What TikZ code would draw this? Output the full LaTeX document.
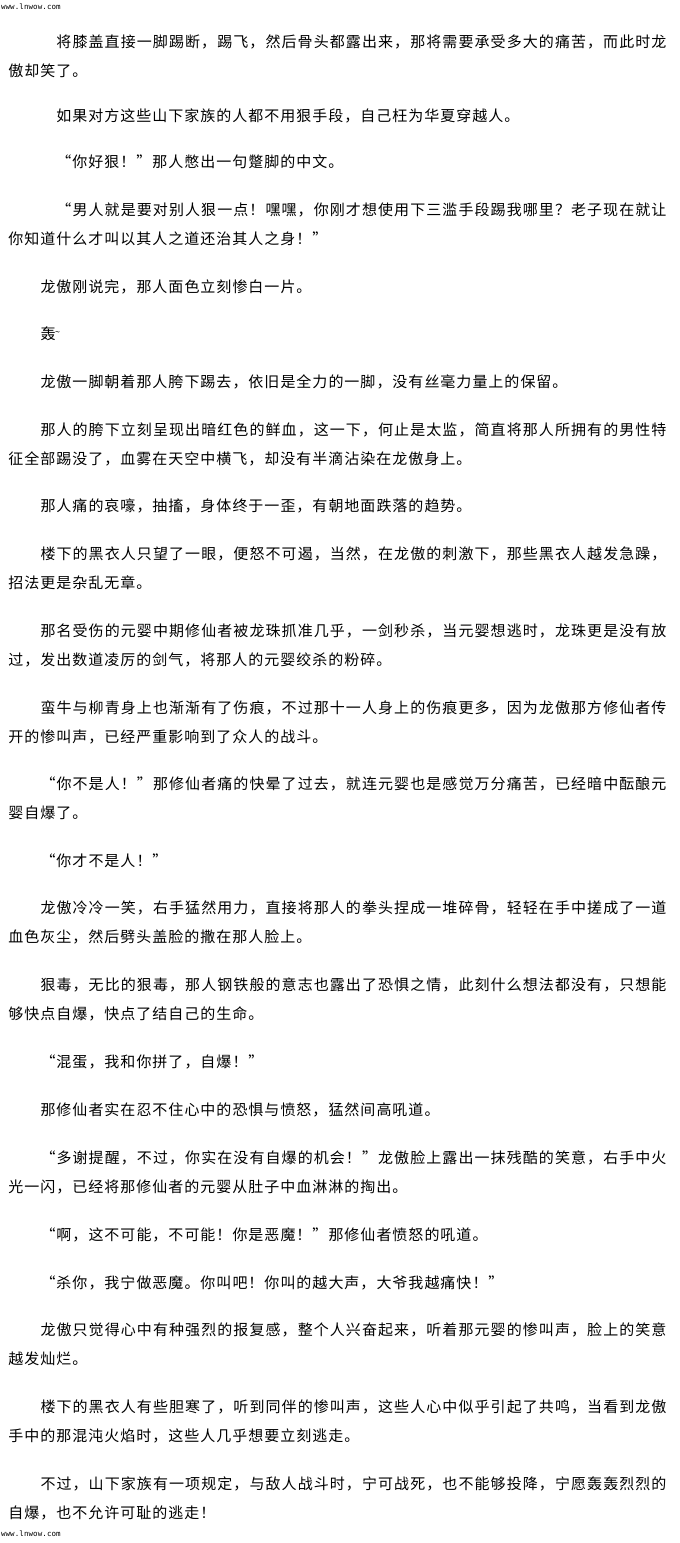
\documentclass[tikz,border=0pt]{standalone}
\usepackage{fontspec}
\setmainfont{Noto Sans CJK SC}
\newfontfamily\wmfont{DejaVu Sans Mono}
\newlength\cw
\setlength\cw{16pt}
\def\lnA#1{\ifx#1\relax\else\makebox[\cw][c]{#1}\hfil\expandafter\lnA\fi}
\def\wmA#1{\ifx#1\relax\else\makebox[4.6pt][c]{#1}\expandafter\wmA\fi}
\newcommand\jl[2]{\hbox to #1{\lnA#2\relax\unskip}}
\newcommand\nl[1]{\hbox{\lnA#1\relax\unskip}}
\newcommand\wml[1]{\hbox{\wmA#1\relax}}
\begin{document}
\begin{tikzpicture}[x=1pt,y=-1pt,
  txt/.style={anchor=base west,inner sep=0pt,outer sep=0pt,font=\fontsize{15}{15}\selectfont},
  wm/.style={anchor=west,inner sep=0pt,outer sep=0pt,font=\wmfont\fontsize{7.5}{7.5}\selectfont}]
\useasboundingbox[fill=white] (0,0) rectangle (680,1543);
\node[wm] (wmtop) at (1,7) {\wml{www.lnwow.com}};
% paragraphs: x, center y
\node[txt] (p1a) at (56,42+5.5) {\jl{611pt}{将膝盖直接一脚踢断，踢飞，然后骨头都露出来，那将需要承受多大的痛苦，而此时龙}};
\node[txt] (p1b) at (8,71+5.5) {\nl{傲却笑了。}};
\node[txt] (p2) at (56,116+5.5) {\nl{如果对方这些山下家族的人都不用狠手段，自己枉为华夏穿越人。}};
\node[txt] (p3) at (56,162+5.5) {\nl{“你好狠！”那人憋出一句蹩脚的中文。}};
\node[txt] (p4a) at (56,210+5.5) {\jl{611pt}{“男人就是要对别人狠一点！嘿嘿，你刚才想使用下三滥手段踢我哪里？老子现在就让}};
\node[txt] (p4b) at (8,239+5.5) {\nl{你知道什么才叫以其人之道还治其人之身！”}};
\node[txt] (p5) at (40,287+5.5) {\nl{龙傲刚说完，那人面色立刻惨白一片。}};
\node[txt] (p6) at (40,334+5.5) {\hbox{\makebox[\cw][c]{轰}\hspace{-1pt}\raisebox{4pt}{\fontsize{9}{9}\selectfont\textasciitilde}}};
\node[txt] (p7) at (40,382+5.5) {\nl{龙傲一脚朝着那人胯下踢去，依旧是全力的一脚，没有丝毫力量上的保留。}};
\node[txt] (p8a) at (40,430+5.5) {\jl{627pt}{那人的胯下立刻呈现出暗红色的鲜血，这一下，何止是太监，简直将那人所拥有的男性特}};
\node[txt] (p8b) at (8,459+5.5) {\nl{征全部踢没了，血雾在天空中横飞，却没有半滴沾染在龙傲身上。}};
\node[txt] (p9) at (40,506+5.5) {\nl{那人痛的哀嚎，抽搐，身体终于一歪，有朝地面跌落的趋势。}};
\node[txt] (p10a) at (40,554+5.5) {\jl{627pt}{楼下的黑衣人只望了一眼，便怒不可遏，当然，在龙傲的刺激下，那些黑衣人越发急躁，}};
\node[txt] (p10b) at (8,583+5.5) {\nl{招法更是杂乱无章。}};
\node[txt] (p11a) at (40,631+5.5) {\jl{627pt}{那名受伤的元婴中期修仙者被龙珠抓准几乎，一剑秒杀，当元婴想逃时，龙珠更是没有放}};
\node[txt] (p11b) at (8,660+5.5) {\nl{过，发出数道凌厉的剑气，将那人的元婴绞杀的粉碎。}};
\node[txt] (p12a) at (40,708+5.5) {\jl{627pt}{蛮牛与柳青身上也渐渐有了伤痕，不过那十一人身上的伤痕更多，因为龙傲那方修仙者传}};
\node[txt] (p12b) at (8,737+5.5) {\nl{开的惨叫声，已经严重影响到了众人的战斗。}};
\node[txt] (p13a) at (40,784+5.5) {\jl{627pt}{“你不是人！”那修仙者痛的快晕了过去，就连元婴也是感觉万分痛苦，已经暗中酝酿元}};
\node[txt] (p13b) at (8,813+5.5) {\nl{婴自爆了。}};
\node[txt] (p14) at (40,861+5.5) {\nl{“你才不是人！”}};
\node[txt] (p15a) at (40,908+5.5) {\jl{627pt}{龙傲冷冷一笑，右手猛然用力，直接将那人的拳头捏成一堆碎骨，轻轻在手中搓成了一道}};
\node[txt] (p15b) at (8,937+5.5) {\nl{血色灰尘，然后劈头盖脸的撒在那人脸上。}};
\node[txt] (p16a) at (40,985+5.5) {\jl{627pt}{狠毒，无比的狠毒，那人钢铁般的意志也露出了恐惧之情，此刻什么想法都没有，只想能}};
\node[txt] (p16b) at (8,1014+5.5) {\nl{够快点自爆，快点了结自己的生命。}};
\node[txt] (p17) at (40,1062+5.5) {\nl{“混蛋，我和你拼了，自爆！”}};
\node[txt] (p18) at (40,1110+5.5) {\nl{那修仙者实在忍不住心中的恐惧与愤怒，猛然间高吼道。}};
\node[txt] (p19a) at (40,1158+5.5) {\jl{627pt}{“多谢提醒，不过，你实在没有自爆的机会！”龙傲脸上露出一抹残酷的笑意，右手中火}};
\node[txt] (p19b) at (8,1187+5.5) {\nl{光一闪，已经将那修仙者的元婴从肚子中血淋淋的掏出。}};
\node[txt] (p20) at (40,1235+5.5) {\nl{“啊，这不可能，不可能！你是恶魔！”那修仙者愤怒的吼道。}};
\node[txt] (p21) at (40,1283+5.5) {\nl{“杀你，我宁做恶魔。你叫吧！你叫的越大声，大爷我越痛快！”}};
\node[txt] (p22a) at (40,1330+5.5) {\jl{627pt}{龙傲只觉得心中有种强烈的报复感，整个人兴奋起来，听着那元婴的惨叫声，脸上的笑意}};
\node[txt] (p22b) at (8,1359+5.5) {\nl{越发灿烂。}};
\node[txt] (p23a) at (40,1407+5.5) {\jl{627pt}{楼下的黑衣人有些胆寒了，听到同伴的惨叫声，这些人心中似乎引起了共鸣，当看到龙傲}};
\node[txt] (p23b) at (8,1436+5.5) {\nl{手中的那混沌火焰时，这些人几乎想要立刻逃走。}};
\node[txt] (p24a) at (40,1484+5.5) {\jl{627pt}{不过，山下家族有一项规定，与敌人战斗时，宁可战死，也不能够投降，宁愿轰轰烈烈的}};
\node[txt] (p24b) at (8,1513+5.5) {\nl{自爆，也不允许可耻的逃走！}};
\node[wm] (wmbot) at (1,1534) {\wml{www.lnwow.com}};
\end{tikzpicture}
\end{document}
